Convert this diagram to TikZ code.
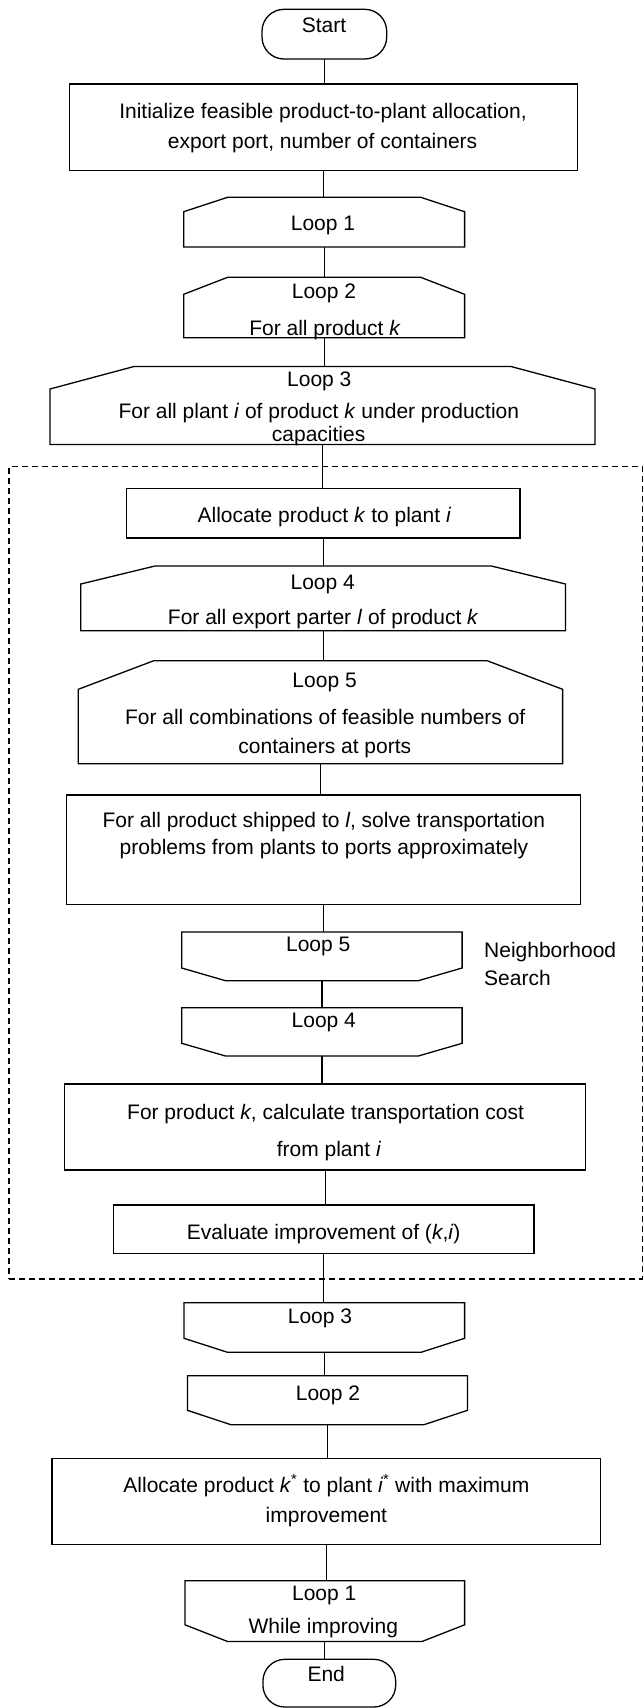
\documentclass[tikz,border=0pt]{standalone}
\usepackage{fontspec}
\setmainfont{Liberation Sans}
\newcommand\LoopOpen[3]{%
  \draw[ln] (#1.south west) -- ([yshift=-#3]#1.north west) -- ([xshift=#2]#1.north west) -- ([xshift=-#2]#1.north east) -- ([yshift=-#3]#1.north east) -- (#1.south east) -- cycle;}
\newcommand\LoopClose[3]{%
  \draw[ln] (#1.north west) -- ([yshift=#3]#1.south west) -- ([xshift=#2]#1.south west) -- ([xshift=-#2]#1.south east) -- ([yshift=#3]#1.south east) -- (#1.north east) -- cycle;}
\begin{document}
\begin{tikzpicture}[x=1pt,y=1pt,
  ln/.style={line width=1.3pt, line join=miter},
  frame/.style={draw=none, inner sep=0pt, outer sep=0pt},
  rbox/.style={draw, line width=1.3pt, inner sep=0pt, outer sep=0pt},
  txt/.style={inner sep=0pt, anchor=base, font=\fontsize{21}{25}\selectfont},
  conn/.style={line width=1.3pt},
  group/.style={draw, line width=1.3pt, dash pattern=on 6pt off 4pt, inner sep=0pt, outer sep=0pt}]
\useasboundingbox (0,0) rectangle (643,-1708);

% dashed group
\node[group, minimum width=633.3pt, minimum height=812.3pt] (nbox) at (325.65,-872.85) {};

% shapes
\node[rbox, rounded corners=22pt, minimum width=124.7pt, minimum height=49.7pt] (start) at (324.35,-34.15) {};
\node[rbox, minimum width=507.7pt, minimum height=86.7pt] (init) at (323.55,-127.35) {};
\node[frame, minimum width=280.9pt, minimum height=49.7pt] (l1) at (324.15,-222.15) {};
\node[frame, minimum width=280.9pt, minimum height=60.4pt] (l2) at (324.15,-307.5) {};
\node[frame, minimum width=545pt, minimum height=78pt] (l3) at (322.5,-405.5) {};
\node[rbox, minimum width=393.5pt, minimum height=49.5pt] (alloc) at (323.25,-513.25) {};
\node[frame, minimum width=484.7pt, minimum height=64.7pt] (l4) at (323.15,-598.35) {};
\node[frame, minimum width=484.3pt, minimum height=103pt] (l5) at (320.45,-712.2) {};
\node[rbox, minimum width=513.9pt, minimum height=109.7pt] (trans) at (323.75,-849.85) {};
\node[frame, minimum width=280.4pt, minimum height=48.7pt] (e5) at (321.9,-956.35) {};
\node[frame, minimum width=280.4pt, minimum height=48.3pt] (e4) at (321.9,-1031.85) {};
\node[rbox, minimum width=520.8pt, minimum height=86pt] (cost) at (325.2,-1127) {};
\node[rbox, minimum width=420.3pt, minimum height=48.7pt] (eval) at (323.75,-1229.35) {};
\node[frame, minimum width=280.6pt, minimum height=49.6pt] (e3) at (324.3,-1327.5) {};
\node[frame, minimum width=280.1pt, minimum height=49pt] (e2) at (327.45,-1400.2) {};
\node[rbox, minimum width=548.7pt, minimum height=86pt] (best) at (326.35,-1501.3) {};
\node[frame, minimum width=279.6pt, minimum height=60.8pt] (e1) at (324.8,-1611.1) {};
\node[rbox, rounded corners=22pt, minimum width=132.8pt, minimum height=47.7pt] (end) at (329.3,-1683.15) {};

\LoopOpen{l1}{43.9pt}{14.4pt}
\LoopOpen{l2}{43.9pt}{17pt}
\LoopOpen{l3}{84pt}{22.5pt}
\LoopOpen{l4}{74.2pt}{18pt}
\LoopOpen{l5}{75.5pt}{28.6pt}
\LoopClose{e5}{43.8pt}{12.7pt}
\LoopClose{e4}{43.8pt}{12.7pt}
\LoopClose{e3}{43.6pt}{14pt}
\LoopClose{e2}{43.5pt}{14.4pt}
\LoopClose{e1}{42.6pt}{16.7pt}

% connectors
\draw[conn] (start.south) -- (start.south |- init.north);
\draw[conn] (init.south) -- (init.south |- l1.north);
\draw[conn] (l1.south) -- (l1.south |- l2.north);
\draw[conn] (l2.south) -- (l2.south |- l3.north);
\draw[conn] (l3.south) -- (l3.south |- alloc.north);
\draw[conn] (alloc.south) -- (alloc.south |- l4.north);
\draw[conn] (l4.south) -- (l4.south |- l5.north);
\draw[conn] (l5.south) -- (l5.south |- trans.north);
\draw[conn] (trans.south) -- (trans.south |- e5.north);
\draw[conn] (e5.south) -- (e5.south |- e4.north);
\draw[conn] (e4.south) -- (e4.south |- cost.north);
\draw[conn] (cost.south) -- (cost.south |- eval.north);
\draw[conn] (eval.south) -- (eval.south |- e3.north);
\draw[conn] (e3.south) -- (e3.south |- e2.north);
\draw[conn] (e2.south) -- (e2.south |- best.north);
\draw[conn] (best.south) -- (best.south |- e1.north);
\draw[conn] (e1.south) -- (e1.south |- end.north);

% texts
\node[txt] (tstart) at (324,-32.3) {Start};
\node[txt] (tinit1) at (323,-118.7) {Initialize feasible product-to-plant allocation,};
\node[txt] (tinit2) at (322.6,-148.7) {export port, number of containers};
\node[txt] (tl1) at (323,-230.3) {Loop 1};
\node[txt] (tl2a) at (324,-298.7) {Loop 2};
\node[txt] (tl2b) at (325,-335.3) {For all product \textit{k}};
\node[txt] (tl3a) at (319.3,-386.3) {Loop 3};
\node[txt] (tl3b) at (318.8,-418) {For all plant \textit{i} of product \textit{k} under production};
\node[txt] (tl3c) at (318.6,-441) {capacities};
\node[txt] (talloc) at (324.4,-522.3) {Allocate product \textit{k} to plant \textit{i}};
\node[txt] (tl4a) at (322.7,-589.7) {Loop 4};
\node[txt] (tl4b) at (323.3,-624.7) {For all export parter \textit{l} of product \textit{k}};
\node[txt] (tl5a) at (324.6,-687) {Loop 5};
\node[txt] (tl5b) at (325.2,-724.7) {For all combinations of feasible numbers of};
\node[txt] (tl5c) at (324.8,-753.7) {containers at ports};
\node[txt] (ttr1) at (323.8,-827) {For all product shipped to \textit{l}, solve transportation};
\node[txt] (ttr2) at (324,-854.7) {problems from plants to ports approximately};
\node[txt] (te5) at (318.2,-951) {Loop 5};
\node[txt, anchor=base west] (tns1) at (484,-957) {Neighborhood};
\node[txt, anchor=base west] (tns2) at (484,-985) {Search};
\node[txt] (te4) at (323.8,-1027) {Loop 4};
\node[txt] (tcost1) at (325.6,-1119) {For product \textit{k}, calculate transportation cost};
\node[txt] (tcost2) at (329,-1156) {from plant \textit{i}};
\node[txt] (teval) at (323.7,-1239) {Evaluate improvement of (\textit{k},\textit{i})};
\node[txt] (te3) at (320,-1323) {Loop 3};
\node[txt] (te2) at (328,-1400) {Loop 2};
\node[txt] (tbest1) at (326.4,-1492) {Allocate product \textit{k}\textsuperscript{*} to plant \textit{i}\textsuperscript{*} with maximum};
\node[txt] (tbest2) at (326.4,-1522) {improvement};
\node[txt] (te1a) at (324.2,-1600) {Loop 1};
\node[txt] (te1b) at (323.3,-1633.3) {While improving};
\node[txt] (tend) at (326.2,-1681) {End};
\end{tikzpicture}
\end{document}
